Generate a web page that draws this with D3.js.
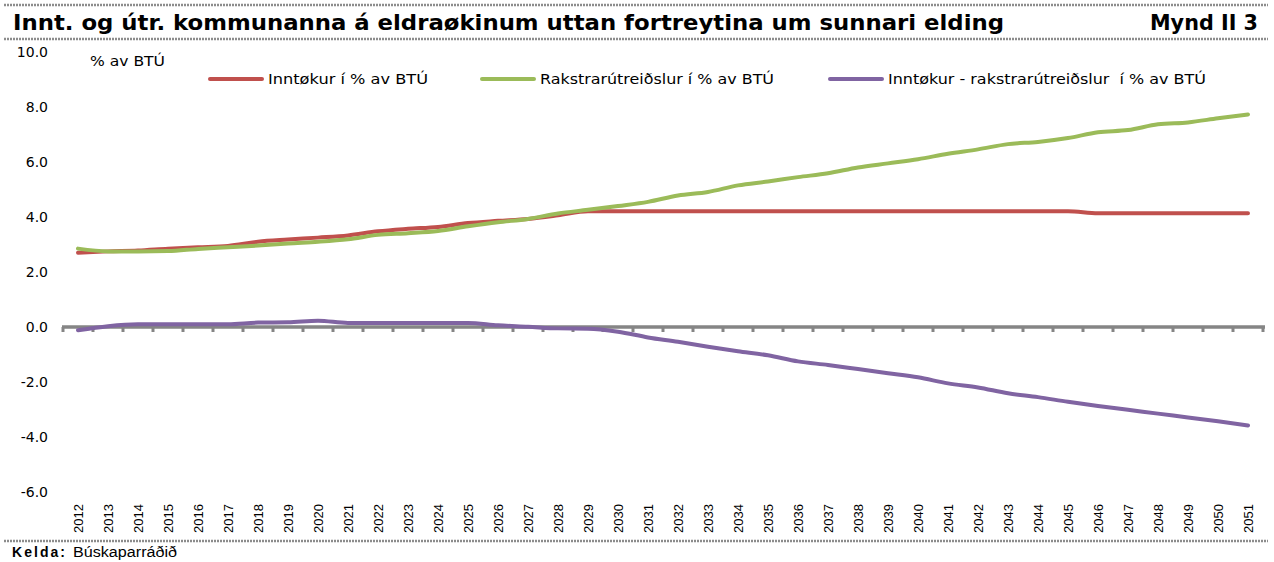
<!DOCTYPE html>
<html>
<head>
<meta charset="utf-8">
<script src="https://cdn.jsdelivr.net/npm/d3@7"></script>
<style>
  html, body { margin: 0; padding: 0; background: #ffffff; }
  svg { display: block; }
</style>
</head>
<body>
<svg id="chart" width="1274" height="562"></svg>
<script>
// Years on the category axis
const years = d3.range(2012, 2052).map(String);

// Revenue as % of GDP
const revenue = [
  2.70, 2.75, 2.78, 2.85, 2.90, 2.95, 3.10, 3.18, 3.25, 3.33,
  3.48, 3.57, 3.64, 3.78, 3.86, 3.93, 4.06, 4.21, 4.21, 4.21,
  4.21, 4.21, 4.21, 4.21, 4.21, 4.21, 4.21, 4.21, 4.21, 4.21,
  4.21, 4.21, 4.21, 4.21, 4.14, 4.14, 4.14, 4.14, 4.14, 4.14
];

// Operating expenditure as % of GDP
const expenditure = [
  2.85, 2.75, 2.75, 2.76, 2.84, 2.90, 2.96, 3.04, 3.10, 3.19,
  3.35, 3.41, 3.49, 3.66, 3.81, 3.93, 4.13, 4.26, 4.40, 4.55,
  4.78, 4.91, 5.15, 5.29, 5.45, 5.59, 5.80, 5.95, 6.10, 6.30,
  6.46, 6.65, 6.73, 6.87, 7.08, 7.16, 7.37, 7.44, 7.59, 7.73
];

// Revenue minus operating expenditure as % of GDP
const balance = [
  -0.12, 0.03, 0.10, 0.10, 0.10, 0.10, 0.16, 0.17, 0.23, 0.15,
  0.15, 0.15, 0.15, 0.15, 0.06, 0.01, -0.05, -0.06, -0.17, -0.38,
  -0.54, -0.72, -0.88, -1.03, -1.25, -1.38, -1.53, -1.68, -1.83, -2.05,
  -2.20, -2.41, -2.55, -2.72, -2.87, -3.01, -3.15, -3.29, -3.43, -3.58
];

const yTicks = [10, 8, 6, 4, 2, 0, -2, -4, -6];

const seriesNames = [
  "Inntøkur í % av BTÚ",
  "Rakstrarútreiðslur í % av BTÚ",
  "Inntøkur - rakstrarútreiðslur  í % av BTÚ"
];
const seriesColors = ["#c0504d", "#9bbb59", "#8064a2"];

const titleText = "Innt. og útr. kommunanna á eldraøkinum uttan fortreytina um sunnari elding";
const figureLabel = "Mynd II 3";
const unitLabel = "% av BTÚ";
const sourceLabel = "Kelda:";
const sourceText = "Búskaparráðið";

const svg = d3.select("#chart");

const x = d3.scaleBand().domain(years).range([63, 1263]);
const y = d3.scaleLinear().domain([-6, 10]).range([492, 52]);
const xc = d => x(d) + x.bandwidth() / 2;

const sans = "Verdana, 'DejaVu Sans', sans-serif";
const arial = "Arial, 'Liberation Sans', sans-serif";

// Header and footer rules
const ruleColor = "#8c8c8c";
[5, 39, 541].forEach(ry => {
  svg.append("line")
    .attr("x1", 4).attr("x2", 1268)
    .attr("y1", ry).attr("y2", ry)
    .attr("stroke", ruleColor)
    .attr("stroke-width", 2.5)
    .attr("stroke-dasharray", "2,1");
});

// Title
svg.append("text")
  .attr("x", 13).attr("y", 30)
  .attr("font-family", sans)
  .attr("font-weight", "bold")
  .attr("font-size", 20.5)
  .attr("fill", "#000")
  .attr("textLength", 991)
  .attr("lengthAdjust", "spacingAndGlyphs")
  .text(titleText);

svg.append("text")
  .attr("x", 1150).attr("y", 30)
  .attr("font-family", sans)
  .attr("font-weight", "bold")
  .attr("font-size", 20.5)
  .attr("fill", "#000")
  .attr("textLength", 108)
  .attr("lengthAdjust", "spacingAndGlyphs")
  .text(figureLabel);

// Y axis labels (no axis line)
svg.append("g")
  .selectAll("text")
  .data(yTicks)
  .join("text")
  .attr("x", 48)
  .attr("y", d => y(d))
  .attr("dy", "0.35em")
  .attr("text-anchor", "end")
  .attr("font-family", sans)
  .attr("font-size", 14)
  .attr("fill", "#000")
  .text(d => d3.format(".1f")(d).replace("−", "-"));

// Unit label
svg.append("text")
  .attr("x", 90).attr("y", 66)
  .attr("font-family", sans)
  .attr("font-size", 14)
  .attr("fill", "#000")
  .attr("textLength", 75)
  .attr("lengthAdjust", "spacingAndGlyphs")
  .text(unitLabel);

// Legend
const legendX = [210, 482, 830];
const legendWidths = [160, 234, 318];
const legend = svg.append("g");
seriesNames.forEach((name, i) => {
  legend.append("line")
    .attr("x1", legendX[i]).attr("x2", legendX[i] + 52)
    .attr("y1", 79).attr("y2", 79)
    .attr("stroke", seriesColors[i])
    .attr("stroke-width", 4)
    .attr("stroke-linecap", "round");
  legend.append("text")
    .attr("x", legendX[i] + 58).attr("y", 84)
    .attr("font-family", sans)
    .attr("font-size", 14)
    .attr("fill", "#000")
    .attr("xml:space", "preserve")
    .attr("textLength", legendWidths[i])
    .attr("lengthAdjust", "spacingAndGlyphs")
    .text(name);
});

// Category axis at zero
const xAxis = d3.axisBottom(x)
  .tickValues([])
  .tickSizeOuter(0);
const axisG = svg.append("g")
  .attr("transform", `translate(0,${y(0)})`)
  .call(xAxis);
axisG.select(".domain")
  .attr("stroke", "#858585")
  .attr("stroke-width", 3.5)
  .attr("d", `M${x.range()[0] - 1},0H${x.range()[1] + 2}`);

// Boundary ticks between categories
const boundaries = years.map(d => x(d)).concat([x.range()[1]]);
axisG.append("g")
  .selectAll("line")
  .data(boundaries)
  .join("line")
  .attr("x1", d => d).attr("x2", d => d)
  .attr("y1", 0).attr("y2", 5)
  .attr("stroke", "#858585")
  .attr("stroke-width", 3);

// Year labels, rotated, along the bottom
svg.append("g")
  .selectAll("text")
  .data(years)
  .join("text")
  .attr("transform", d => `translate(${xc(d)},533) rotate(-90)`)
  .attr("dy", "0.35em")
  .attr("font-family", arial)
  .attr("font-size", 13)
  .attr("fill", "#000")
  .text(d => d);

// Series lines
const line = d3.line()
  .x((d, i) => xc(years[i]))
  .y(d => y(d))
  .curve(d3.curveMonotoneX);

[revenue, expenditure, balance].forEach((vals, i) => {
  svg.append("path")
    .datum(vals)
    .attr("fill", "none")
    .attr("stroke", seriesColors[i])
    .attr("stroke-width", 4)
    .attr("stroke-linejoin", "round")
    .attr("stroke-linecap", "round")
    .attr("d", line);
});

// Source line
svg.append("text")
  .attr("x", 12).attr("y", 557)
  .attr("font-family", arial)
  .attr("font-size", 14)
  .attr("font-weight", "bold")
  .attr("fill", "#000")
  .attr("textLength", 53)
  .attr("lengthAdjust", "spacing")
  .text(sourceLabel);
svg.append("text")
  .attr("x", 73).attr("y", 557)
  .attr("font-family", arial)
  .attr("font-size", 14)
  .attr("fill", "#000")
  .attr("textLength", 104)
  .attr("lengthAdjust", "spacingAndGlyphs")
  .text(sourceText);
</script>
</body>
</html>
